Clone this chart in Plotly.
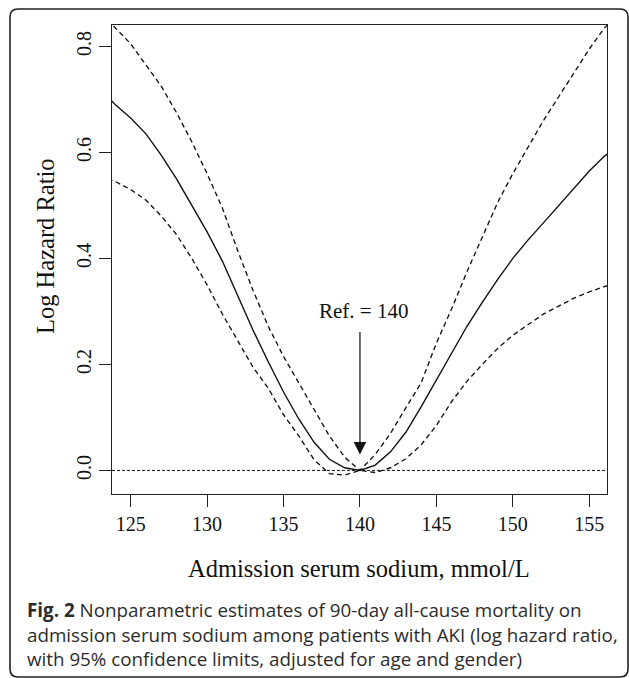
import plotly.graph_objects as go

# ---- data ----
sodium = [123.5, 124, 125, 126, 127, 128, 129, 130, 131, 132, 133, 134, 135, 136, 137,
          138, 139, 140, 141, 142, 143, 144, 145, 146, 147, 148, 149, 150, 151, 152,
          153, 154, 155, 156, 156.5]
log_hr = [0.705, 0.69, 0.665, 0.635, 0.595, 0.55, 0.50, 0.45, 0.395, 0.33, 0.265, 0.205,
          0.148, 0.097, 0.053, 0.021, 0.005, 0.0, 0.01, 0.035, 0.072, 0.12, 0.17, 0.222,
          0.272, 0.317, 0.36, 0.40, 0.435, 0.467, 0.50, 0.533, 0.565, 0.593, 0.605]
upper_cl = [0.85, 0.835, 0.805, 0.765, 0.725, 0.675, 0.62, 0.56, 0.495, 0.415, 0.34, 0.272,
            0.215, 0.165, 0.115, 0.065, 0.025, 0.0, 0.03, 0.07, 0.118, 0.165, 0.24, 0.305,
            0.375, 0.44, 0.505, 0.56, 0.61, 0.66, 0.705, 0.75, 0.795, 0.835, 0.85]
lower_cl = [0.55, 0.545, 0.53, 0.51, 0.48, 0.445, 0.40, 0.35, 0.295, 0.245, 0.195, 0.155,
            0.105, 0.065, 0.02, -0.006, -0.009, 0.0, -0.004, 0.005, 0.022, 0.048, 0.085,
            0.13, 0.168, 0.2, 0.23, 0.255, 0.275, 0.295, 0.31, 0.325, 0.337, 0.347, 0.35]
x_ticks = [125, 130, 135, 140, 145, 150, 155]
y_ticks = [0.0, 0.2, 0.4, 0.6, 0.8]
ref_value = 140
ref_label = "Ref. = 140"
x_title = "Admission serum sodium, mmol/L"
y_title = "Log Hazard Ratio"
caption_lines = [
    "<b>Fig. 2</b> Nonparametric estimates of 90-day all-cause mortality on",
    "admission serum sodium among patients with AKI (log hazard ratio,",
    "with 95% confidence limits, adjusted for age and gender)",
]

# ---- layout geometry (pixels) ----
FW, FH = 629, 678
L, R, T, B = 112, 22, 25, 184
PW, PH = FW - L - R, FH - T - B


def px_x(px):
    return (px - L) / PW


def px_y(py):
    return (T + PH - py) / PH


SERIF = "Liberation Serif, Times New Roman, serif"
SANS = "Open Sans, Noto Sans, sans-serif"

fig = go.Figure()
fig.add_trace(go.Scatter(x=sodium, y=upper_cl, mode="lines",
                         line=dict(color="#111", width=1.35, dash="5px,3.5px"),
                         showlegend=False, hoverinfo="skip"))
fig.add_trace(go.Scatter(x=sodium, y=lower_cl, mode="lines",
                         line=dict(color="#111", width=1.35, dash="5px,3.5px"),
                         showlegend=False, hoverinfo="skip"))
fig.add_trace(go.Scatter(x=sodium, y=log_hr, mode="lines",
                         line=dict(color="#111", width=1.4),
                         showlegend=False, hoverinfo="skip"))
fig.add_hline(y=0, line=dict(color="#111", width=1, dash="3px,2px"))

# arrow
fig.add_annotation(x=ref_value, y=0.03, ax=ref_value, ay=0.264, xref="x", yref="y",
                   axref="x", ayref="y", text="", showarrow=True, arrowhead=2,
                   arrowsize=2.1, arrowwidth=1.2, arrowcolor="#111", standoff=0)
fig.add_annotation(x=ref_value + 0.2, y=0.30, xref="x", yref="y", text=ref_label,
                   showarrow=False, xanchor="center", yanchor="middle",
                   font=dict(family=SERIF, size=21, color="#111"))

# axis titles
fig.add_annotation(x=px_x(359), y=px_y(568), xref="paper", yref="paper", text=x_title,
                   showarrow=False, xanchor="center", yanchor="middle",
                   font=dict(family=SERIF, size=24.5, color="#111"))
fig.add_annotation(x=px_x(45), y=px_y(246), xref="paper", yref="paper", text=y_title,
                   textangle=-90, showarrow=False, xanchor="center", yanchor="middle",
                   font=dict(family=SERIF, size=24.5, color="#111"))

# caption
for i, line in enumerate(caption_lines):
    fig.add_annotation(x=px_x(25), y=px_y(610 + 24.5 * i), xref="paper", yref="paper",
                       text=line, showarrow=False, xanchor="left", yanchor="middle",
                       font=dict(family=SANS, size=18.8, color="#2b2b2b"))

# rounded frame
x0, y0, x1, y1, rr = 10, 9, 628, 677, 8
path = (f"M {px_x(x0 + rr)},{px_y(y0)} L {px_x(x1 - rr)},{px_y(y0)} "
        f"Q {px_x(x1)},{px_y(y0)} {px_x(x1)},{px_y(y0 + rr)} "
        f"L {px_x(x1)},{px_y(y1 - rr)} Q {px_x(x1)},{px_y(y1)} {px_x(x1 - rr)},{px_y(y1)} "
        f"L {px_x(x0 + rr)},{px_y(y1)} Q {px_x(x0)},{px_y(y1)} {px_x(x0)},{px_y(y1 - rr)} "
        f"L {px_x(x0)},{px_y(y0 + rr)} Q {px_x(x0)},{px_y(y0)} {px_x(x0 + rr)},{px_y(y0)} Z")
fig.add_shape(type="path", path=path, xref="paper", yref="paper",
              line=dict(color="#222", width=1.6), layer="above")

axis_common = dict(showgrid=False, zeroline=False, showline=True, linecolor="#222",
                   linewidth=1, mirror=True, ticks="outside", ticklen=12, tickwidth=1,
                   tickcolor="#222", tickfont=dict(family=SERIF, size=20, color="#111"))
fig.update_xaxes(range=[123.78, 156.16], tickvals=x_ticks, **axis_common)
fig.update_yaxes(range=[-0.0445, 0.8404], tickvals=y_ticks, tickformat=".1f",
                 tickangle=-90, **axis_common)

fig.update_layout(width=FW, height=FH, autosize=False,
                  margin=dict(l=L, r=R, t=T, b=B, pad=0),
                  paper_bgcolor="white", plot_bgcolor="white")

fig.write_html("out.html", config={"displayModeBar": False},
               post_script="document.body.style.margin='0px';"
                           "document.body.style.overflow='hidden';")
